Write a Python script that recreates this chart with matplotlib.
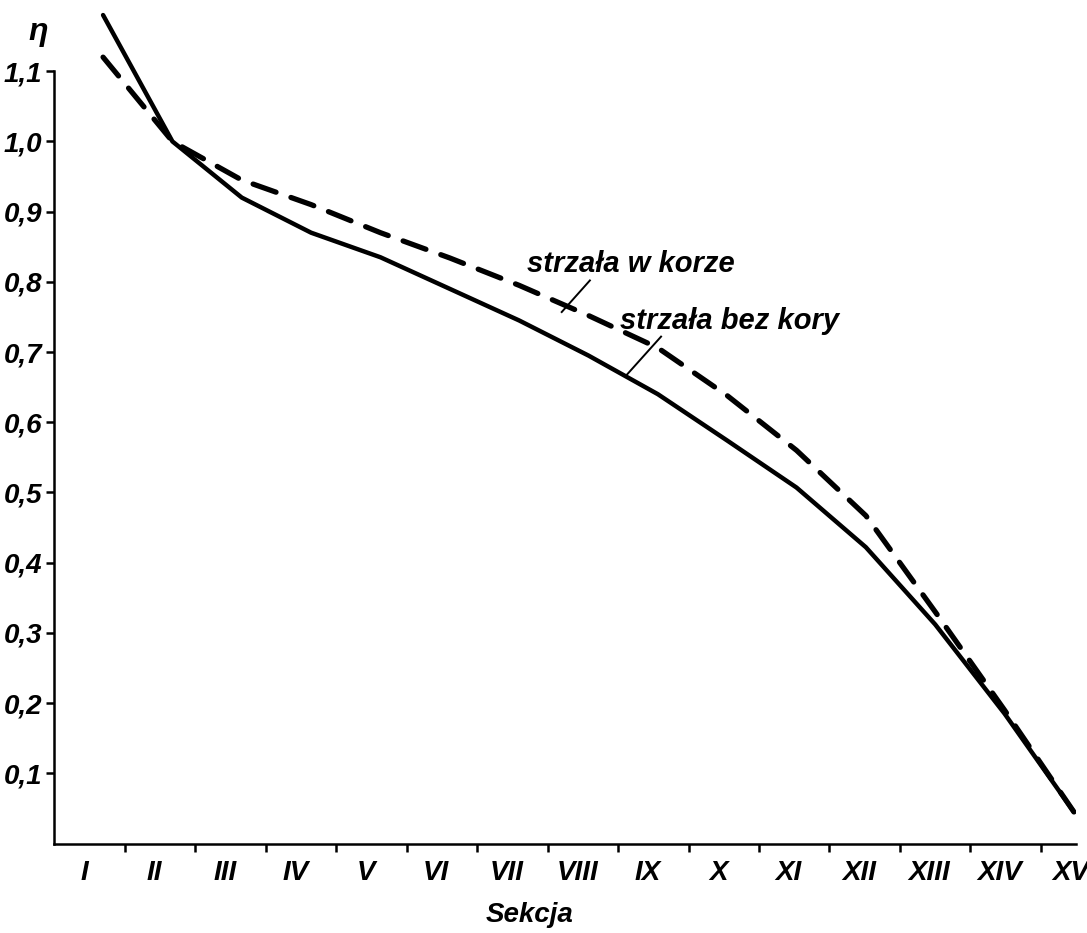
import matplotlib
matplotlib.use('Agg')
import matplotlib.pyplot as plt
import numpy as np

# sekcje drzewa (I..XV) i wspolczynnik ksztaltu eta
sections = ['I', 'II', 'III', 'IV', 'V', 'VI', 'VII', 'VIII', 'IX', 'X',
            'XI', 'XII', 'XIII', 'XIV', 'XV']
eta_bez_kory = [1.18, 1.00, 0.92, 0.87, 0.835, 0.79, 0.745, 0.695, 0.64,
                0.574, 0.507, 0.422, 0.312, 0.185, 0.045]
eta_w_korze = [1.12, 1.00, 0.945, 0.91, 0.87, 0.834, 0.795, 0.752, 0.706,
               0.638, 0.56, 0.467, 0.33, 0.19, 0.045]
yticks = [0.1, 0.2, 0.3, 0.4, 0.5, 0.6, 0.7, 0.8, 0.9, 1.0, 1.1]

plt.rcParams['font.family'] = ['Liberation Sans', 'DejaVu Sans']
plt.rcParams['font.style'] = 'italic'
plt.rcParams['font.weight'] = 'bold'

fig = plt.figure(figsize=(10.87, 9.33), dpi=100)
ax = fig.add_axes([0.0501, 0.0959, 0.9398, 0.8955])

n = len(sections)
centers = np.arange(n) + 0.5
# punkty rysowane nieco w prawo od srodka sekcji, jak na oryginale
xs = np.linspace(0.69, 14.47, n)

ax.plot(xs, eta_bez_kory, color='black', lw=3.2, solid_capstyle='round',
        solid_joinstyle='round')
ax.plot(xs, eta_w_korze, color='black', lw=3.8, linestyle=(0, (4.6, 3.0)),
        dash_capstyle='round')

ax.set_xlim(0, n - 0.5)
ax.set_ylim(0, 1.19)

for s in ['top', 'right']:
    ax.spines[s].set_visible(False)
ax.spines['left'].set_bounds(0, 1.1)
ax.spines['left'].set_linewidth(1.8)
ax.spines['bottom'].set_linewidth(1.8)

# podzialki osi x miedzy sekcjami, podpisy w srodku
ax.set_xticks(np.arange(1, n))
ax.set_xticklabels([])
ax.set_xticks(centers - 0.08, minor=True)
ax.set_xticklabels(sections, minor=True, fontsize=20)
ax.tick_params(axis='x', which='major', length=6, width=1.8, direction='out')
ax.tick_params(axis='x', which='minor', length=0, pad=12)

ax.set_yticks(yticks)
ax.set_yticklabels([f'{v:.1f}'.replace('.', ',') for v in yticks], fontsize=20)
ax.tick_params(axis='y', length=6, width=1.8, direction='out', pad=3)

ax.set_xlabel('Sekcja', fontsize=20, fontweight='bold')
ax.xaxis.set_label_coords(0.4655, -0.07)
fig.text(0.035, 0.966, 'η', fontsize=23, ha='center', va='center')

# opisy linii z kreska odniesienia
ax.text(6.71, 0.825, 'strzała w korze', fontsize=21, ha='left', va='center')
ax.plot([7.6, 7.2], [0.802, 0.757], color='black', lw=1.4)
ax.text(8.03, 0.744, 'strzała bez kory', fontsize=21, ha='left', va='center')
ax.plot([8.61, 8.1], [0.722, 0.665], color='black', lw=1.4)

fig.savefig('out.png', dpi=100)
